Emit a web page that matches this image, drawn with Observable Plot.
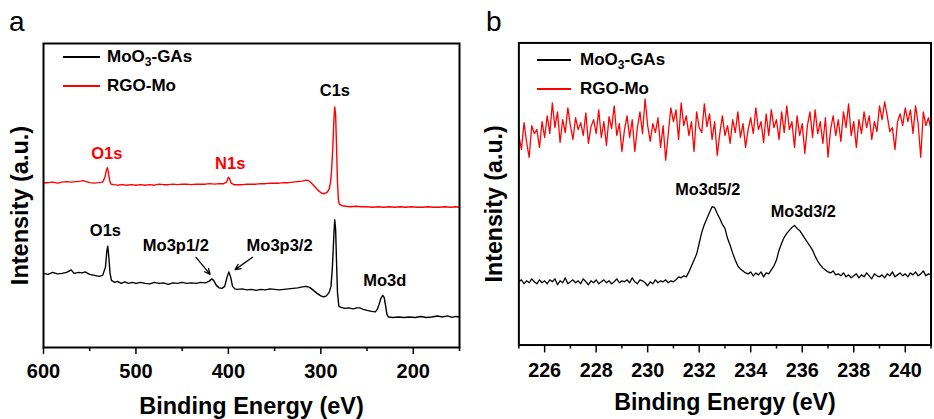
<!DOCTYPE html>
<html><head><meta charset="utf-8">
<script src="https://cdn.jsdelivr.net/npm/d3@7"></script>
<script src="https://cdn.jsdelivr.net/npm/@observablehq/plot@0.6"></script>
<style>
body{margin:0;background:#fff;}
#wrap{position:relative;width:934px;height:419px;overflow:hidden;font-family:"Liberation Sans",Arial,sans-serif;}
.panel{position:absolute;top:0;}
.lbl{position:absolute;font-size:28px;line-height:28px;}
.leg{position:absolute;font-weight:bold;font-size:17px;line-height:20px;height:20px;display:flex;align-items:center;white-space:nowrap;}
.leg .l{display:inline-block;height:2px;}
.leg sub{font-size:12px;vertical-align:-4px;line-height:0;}
</style></head>
<body><div id="wrap"></div>
<script>
// ---------- Panel a: survey spectra ----------
const seriesNames = ["MoO3-GAs", "RGO-Mo"];
const ticksMajorA = [600, 500, 400, 300, 200];
const ticksMinorA = [550, 450, 350, 250, 150];

const energyA_black = [600,595,590,585,580,575,570,567,562,558,555,550,545,540,536,533,531.5,530.5,529.5,528,526.5,523,520,516,512,508,504,500,495,490,485,480,475,470,465,460,455,450,445,440,435,430,425,421,418,416,413,410,407,404,401.5,399.5,397.5,395.5,393,390,385,380,375,370,365,360,355,350,345,340,335,330,325,320,316,312,308,304,300,297,294,291,289,287.5,286,285,284,283,282,280.5,278,274,270,265,261,258,254,250,245,241,239,237,235,233,231.5,230,228.5,227,222,216,210,204,198,192,186,180,174,168,163,158,154,150];
const intensityA_black = [74,73,75,73.5,74,75,77.5,74,75,74.5,75.5,73,72,71,72,80,96,101,92,74,67,65,66,64,65.5,64,65,64,65,64,63.5,65,64,64.5,63,64.5,64,65,64,64.5,64,65,64.5,66,68.5,67,62,59.5,59,61,70,75.5,70,61,58.5,58,58.5,57.5,58,57,58,57.5,58.5,58,57.5,58,58.5,59,59.5,60.5,61,60,57,54,51.5,50.5,51.5,55,61,80,110,127.5,118,85,55,41,40,39,39.5,38.5,39.5,39.5,38,37,36,35.5,38,43,49,52,50,42,33,30.5,30,30.5,30,30.5,30,31,30,30.5,31.5,30.5,31.5,30,31,30.5];

const energyA_red = [600,595,590,585,580,575,570,565,560,557,554,550,545,540,536,533.5,532,531,530,528.5,527,524,520,515,510,505,500,495,490,485,480,475,470,465,460,455,450,445,440,435,430,425,420,415,410,405,402,400,398.5,397,394,390,385,380,375,370,365,360,355,350,345,340,335,330,325,320,316,313,310,306,302,299,296,293,291,289.5,288.5,287,286,285,284,283,282,281,280,277,273,268,262,256,250,244,238,232,226,220,214,208,202,196,190,184,178,172,166,160,154,150];
const intensityA_red = [164.5,164.5,165,164,165,165.5,165,165.5,166,166.5,165.5,164.5,164,164.5,165,170,177,179.5,176,167,163,162.5,162,162.5,162,162.5,162,162.5,162,162.5,162,163,162.5,162.5,163,162.5,163,163,162.5,163,163,163,163.5,163,163.5,163.5,165,170,168,164,162.5,162.5,162.5,163,163,163,163.5,163.5,164,164,164,164.5,164.5,165,165.5,166,167,166.5,164,160,156,154,153.5,155,158,165,175,200,225,240,232,200,165,147,143,141.5,141,140.5,141,140.5,140.5,140,140.5,140,140.5,140,140.5,140,140.5,140,140,140.5,140,140,140.5,140,140.5,140];

const annA_black_text = ["C1s", "O1s", "Mo3p1/2", "Mo3p3/2", "Mo3d"];
const annA_black_e = [284.8, 533, 456.8, 344.6, 230.8];
const annA_black_v = [256, 117, 102, 102, 67];
const annA_red_text = ["O1s", "N1s"];
const annA_red_e = [531.5, 398];
const annA_red_v = [193, 183];
const arrowA_e1 = [435, 373.9], arrowA_v1 = [90, 90], arrowA_e2 = [419.8, 392.7], arrowA_v2 = [73, 77.7];

// ---------- Panel b: Mo3d high resolution ----------
const ticksMajorB = [226, 228, 230, 232, 234, 236, 238, 240];
const ticksMinorB = [225, 227, 229, 231, 233, 235, 237, 239, 241];
const energyStartB = 225, energyStepB = 0.1;
const intensityB_black = [
64,66,62,65,63,67,64,62,66,63,65,
62,66,64,67,61,65,63,68,62,64,
66,63,65,62,67,64,61,65,63,66,
62,64,66,63,65,62,64,67,63,65,
64,66,63,68,64,62,66,65,63,60,
64,62,66,63,65,64,66,63,65,64,
66,69,68,70,69,74,80,86,92,103,
114,122,128,134,140,139,133,128,122,118,
108,101,93,86,80,77,75,73,72,74,
70,73,71,74,69,73,72,76,80,86,
96,103,109,113,116,119,121,118,116,112,
108,104,100,96,90,85,81,78,76,74,
73,75,71,72,70,73,69,71,68,70,
72,68,71,69,73,70,67,72,70,69,
71,68,72,70,74,69,71,73,70,72,
69,73,71,74,70,72,75,70,72,71];
const intensityB_red = [
212,198,225,205,190,222,214,218,200,226,210,
232,214,245,220,236,205,228,215,240,222,
208,230,218,225,212,235,204,221,228,214,
238,210,226,202,231,219,242,212,224,196,
218,232,210,228,196,220,236,214,249,222,
206,224,215,230,200,222,187,214,240,226,
238,208,245,222,232,212,226,196,236,220,
215,244,221,234,208,226,192,214,232,212,
222,204,228,215,236,210,224,200,218,230,
214,240,218,226,205,234,212,238,220,228,
208,236,215,242,218,226,200,232,212,224,
194,222,236,210,238,214,226,204,230,190,
218,232,212,228,206,236,220,244,212,226,
200,228,214,236,220,232,208,226,216,242,
228,246,232,216,220,198,226,234,222,240,
226,238,214,242,224,190,236,222,230,218];
const annB_text = ["Mo3d5/2", "Mo3d3/2"];
const annB_e = [232.33, 236.04];
const annB_v = [157.3, 135];

// ---------- build tables ----------
const pairs = (es, vs) => es.map((e, i) => ({e, v: vs[i]}));
const blackA = pairs(energyA_black, intensityA_black);
const redA = pairs(energyA_red, intensityA_red);
const gridB = intensityB_black.map((_, i) => +(energyStartB + i * energyStepB).toFixed(2));
const blackB = pairs(gridB, intensityB_black);
const redB = pairs(gridB, intensityB_red);
const annABlack = annA_black_text.map((t, i) => ({t, e: annA_black_e[i], v: annA_black_v[i]}));
const annARed = annA_red_text.map((t, i) => ({t, e: annA_red_e[i], v: annA_red_v[i]}));
const arrowsA = arrowA_e1.map((e1, i) => ({e1, v1: arrowA_v1[i], e2: arrowA_e2[i], v2: arrowA_v2[i]}));
const annB = annB_text.map((t, i) => ({t, e: annB_e[i], v: annB_v[i]}));

const font = "Liberation Sans, Arial, sans-serif";
const baseStyle = {fontFamily: font, fontWeight: "bold", fontSize: "20px", color: "#000", background: "transparent", overflow: "visible"};
const titleSize = 23.5, tickSize = 20, annSize = 16.5;

const plotA = Plot.plot({
  width: 470, height: 419,
  marginLeft: 43, marginRight: 11, marginTop: 43, marginBottom: 72,
  x: {domain: [600, 150]},
  y: {domain: [0, 303.4], axis: null},
  style: baseStyle,
  marks: [
    Plot.line(blackA, {x: "e", y: "v", stroke: "#000", strokeWidth: 1.4}),
    Plot.line(redA, {x: "e", y: "v", stroke: "#ff0000", strokeWidth: 1.4}),
    Plot.axisX({ticks: ticksMajorA, tickSize: 7, tickPadding: 9, strokeWidth: 1.5, tickFormat: d => String(d), label: null, fontSize: tickSize}),
    Plot.axisX({ticks: ticksMinorA, tickSize: 4, strokeWidth: 1.5, tickFormat: () => "", label: null}),
    Plot.frame({stroke: "#000", strokeWidth: 2}),
    Plot.text(annABlack, {x: "e", y: "v", text: "t", fill: "#000", fontSize: annSize, fontWeight: "bold"}),
    Plot.text(annARed, {x: "e", y: "v", text: "t", fill: "#ff0000", fontSize: annSize, fontWeight: "bold"}),
    Plot.arrow(arrowsA, {x1: "e1", y1: "v1", x2: "e2", y2: "v2", stroke: "#000", strokeWidth: 1.3, headLength: 7, headAngle: 50}),
    Plot.text(["Binding Energy (eV)"], {text: d => d, frameAnchor: "bottom", dy: 50, lineAnchor: "top", textAnchor: "middle", fontSize: titleSize, fontWeight: "bold"}),
    Plot.text(["Intensity (a.u.)"], {text: d => d, frameAnchor: "left", textAnchor: "middle", rotate: -90, dx: -23, dy: 10, fontSize: titleSize, fontWeight: "bold"})
  ]
});

const plotB = Plot.plot({
  width: 470, height: 419,
  marginLeft: 49, marginRight: 3.5, marginTop: 43, marginBottom: 70,
  x: {domain: [225, 241]},
  y: {domain: [0, 305.7], axis: null},
  style: baseStyle,
  marks: [
    Plot.line(blackB, {x: "e", y: "v", stroke: "#000", strokeWidth: 1.3}),
    Plot.line(redB, {x: "e", y: "v", stroke: "#ff0000", strokeWidth: 1.3}),
    Plot.axisX({ticks: ticksMajorB, tickSize: 8, tickPadding: 10, strokeWidth: 1.5, tickFormat: d => String(d), label: null, fontSize: tickSize}),
    Plot.axisX({ticks: ticksMinorB, tickSize: 4, strokeWidth: 1.5, tickFormat: () => "", label: null}),
    Plot.frame({stroke: "#000", strokeWidth: 2}),
    Plot.text(annB, {x: "e", y: "v", text: "t", fill: "#000", fontSize: annSize, fontWeight: "bold"}),
    Plot.text(["Binding Energy (eV)"], {text: d => d, frameAnchor: "bottom", dy: 49, lineAnchor: "top", textAnchor: "middle", fontSize: titleSize, fontWeight: "bold"}),
    Plot.text(["Intensity (a.u.)"], {text: d => d, frameAnchor: "left", textAnchor: "middle", rotate: -90, dx: -25, dy: 10, fontSize: titleSize, fontWeight: "bold"})
  ]
});

const wrap = document.getElementById("wrap");
const pa = document.createElement("div"); pa.className = "panel"; pa.style.left = "0px"; pa.appendChild(plotA); wrap.appendChild(pa);
const pb = document.createElement("div"); pb.className = "panel"; pb.style.left = "470px"; pb.appendChild(plotB); wrap.appendChild(pb);

function addText(cls, left, top, html) {
  const d = document.createElement("div"); d.className = cls;
  d.style.left = left + "px"; d.style.top = top + "px"; d.innerHTML = html; wrap.appendChild(d);
}
addText("lbl", 9, 8, "a");
addText("lbl", 486, 8, "b");

function addLegend(left, cy, lineW, gap, color, html) {
  const d = document.createElement("div"); d.className = "leg";
  d.style.left = left + "px"; d.style.top = (cy - 10) + "px";
  d.innerHTML = `<span class="l" style="width:${lineW}px;background:${color};margin-right:${gap}px"></span><span>${html}</span>`;
  wrap.appendChild(d);
}
const legendHtml = ["MoO<sub>3</sub>-GAs", "RGO-Mo"];
const legendColors = ["#000", "#ff0000"];
addLegend(63, 57, 37, 7, legendColors[0], legendHtml[0]);
addLegend(63, 86, 37, 7, legendColors[1], legendHtml[1]);
addLegend(537, 60, 34, 9, legendColors[0], legendHtml[0]);
addLegend(537, 89, 34, 9, legendColors[1], legendHtml[1]);
</script></body></html>
